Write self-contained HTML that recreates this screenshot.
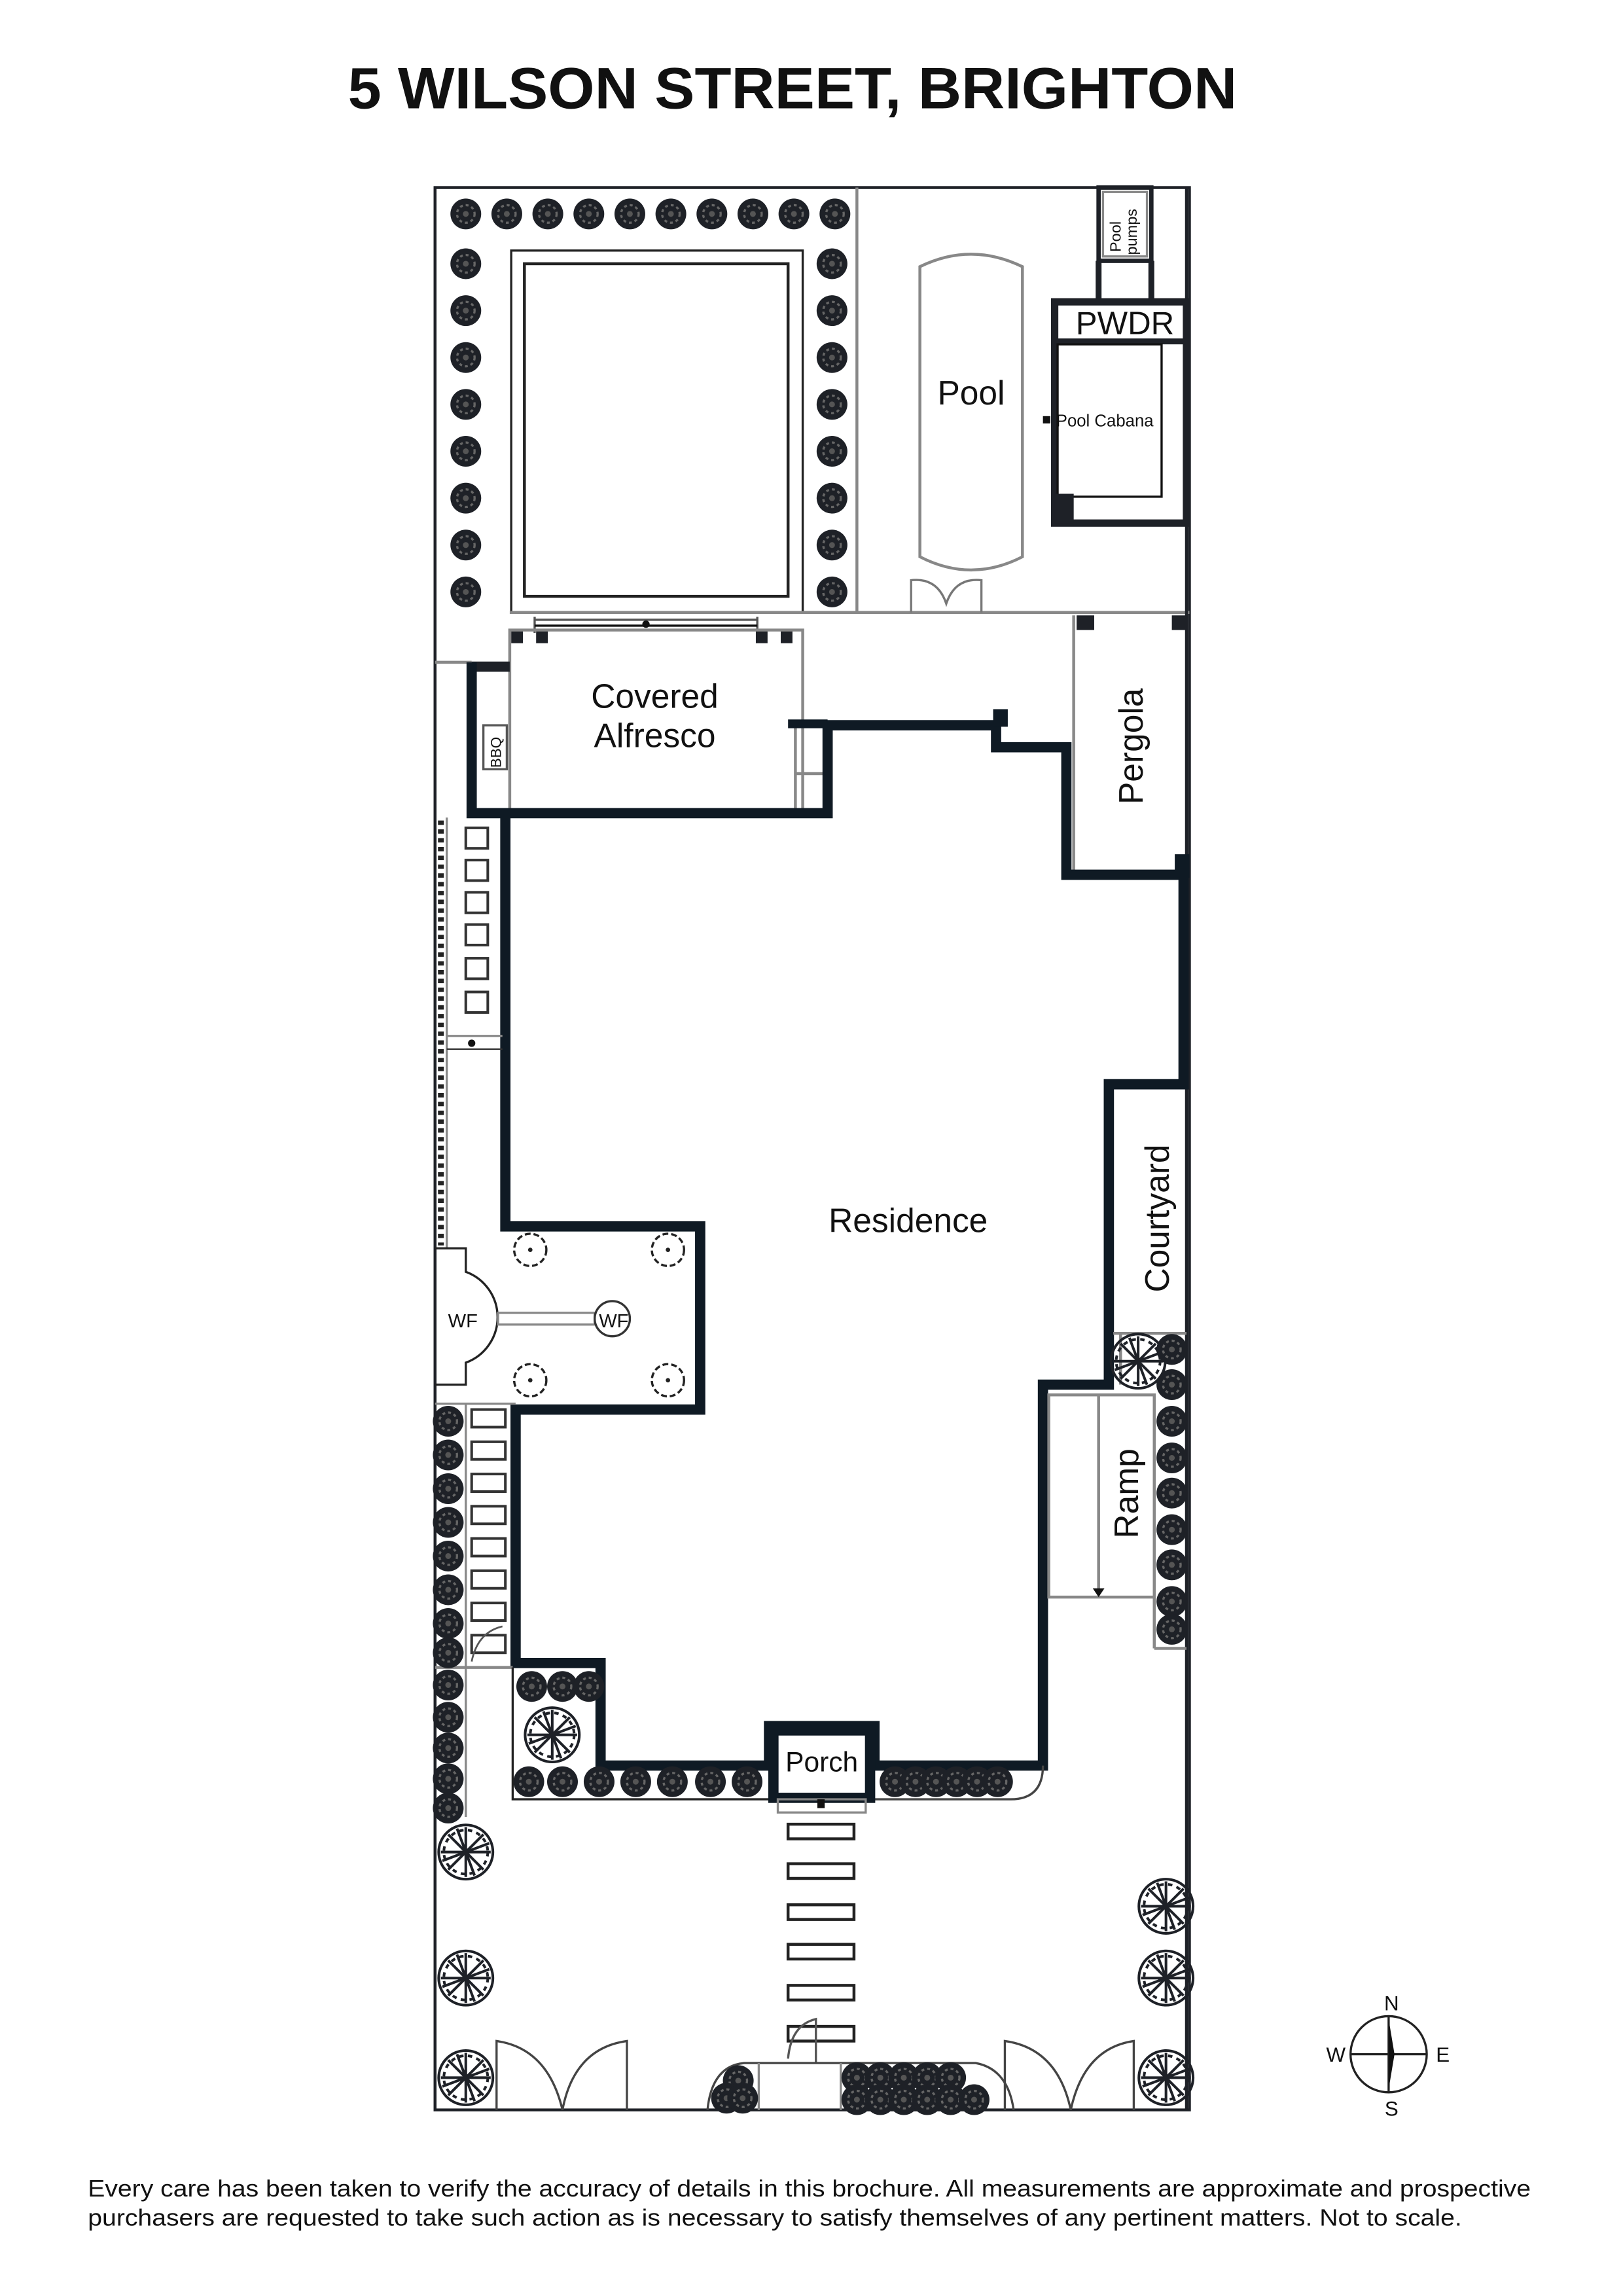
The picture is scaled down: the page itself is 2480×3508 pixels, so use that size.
<!DOCTYPE html>
<html><head><meta charset="utf-8"><style>
html,body{margin:0;padding:0;background:#fff}
svg{display:block}
text{font-family:"Liberation Sans",sans-serif;fill:#111}
</style></head><body>
<svg width="2480" height="3508" viewBox="0 0 1108 1567" preserveAspectRatio="none" xmlns="http://www.w3.org/2000/svg">
<defs>
<g id="t"><circle r="10.5" fill="#1e2127"/><circle r="6" fill="none" stroke="#666" stroke-width="1.5" stroke-dasharray="2 2"/><circle r="2" fill="#555"/></g>
<g id="T" fill="none" stroke="#1e2127" stroke-width="1.8"><circle r="18.5"/><circle r="15" stroke-dasharray="3 3"/><path d="M0,-17V17M-17,0H17M-12,-12L12,12M-12,12L12,-12M-6,-16L6,16M-16,6L16,-6"/></g>
</defs>
<text x="541" y="74" text-anchor="middle" font-size="40" font-weight="bold" fill="#0d1a26" textLength="607" lengthAdjust="spacingAndGlyphs">5 WILSON STREET, BRIGHTON</text>

<rect x="297" y="128" width="515" height="1312" fill="none" stroke="#1e2127" stroke-width="2"/>

<g>
<use href="#t" x="318" y="146"/><use href="#t" x="346" y="146"/><use href="#t" x="374" y="146"/><use href="#t" x="402" y="146"/><use href="#t" x="430" y="146"/><use href="#t" x="458" y="146"/><use href="#t" x="486" y="146"/><use href="#t" x="514" y="146"/><use href="#t" x="542" y="146"/><use href="#t" x="570" y="146"/>
<use href="#t" x="318" y="180"/><use href="#t" x="318" y="212"/><use href="#t" x="318" y="244"/><use href="#t" x="318" y="276"/><use href="#t" x="318" y="308"/><use href="#t" x="318" y="340"/><use href="#t" x="318" y="372"/><use href="#t" x="318" y="404"/>
<use href="#t" x="568" y="180"/><use href="#t" x="568" y="212"/><use href="#t" x="568" y="244"/><use href="#t" x="568" y="276"/><use href="#t" x="568" y="308"/><use href="#t" x="568" y="340"/><use href="#t" x="568" y="372"/><use href="#t" x="568" y="404"/>
</g>
<rect x="349" y="171" width="199" height="247" fill="none" stroke="#222" stroke-width="1.5"/>
<rect x="358" y="180" width="180" height="227" fill="none" stroke="#222" stroke-width="2"/>
<line x1="585" y1="128" x2="585" y2="418" stroke="#888" stroke-width="2"/>
<line x1="348" y1="418" x2="812" y2="418" stroke="#888" stroke-width="2"/>
<line x1="297" y1="452" x2="322" y2="452" stroke="#888" stroke-width="2"/>
<g stroke="#555" stroke-width="1.5"><line x1="365" y1="421" x2="365" y2="432"/><line x1="517" y1="421" x2="517" y2="432"/><line x1="365" y1="423" x2="517" y2="423"/><line x1="365" y1="427" x2="517" y2="427" stroke="#111"/></g>
<rect x="349" y="430" width="8" height="9" fill="#1e2127"/><rect x="366" y="430" width="8" height="9" fill="#1e2127"/><rect x="516" y="430" width="8" height="9" fill="#1e2127"/><rect x="533" y="430" width="8" height="9" fill="#1e2127"/>
<circle cx="441" cy="426" r="2.5" fill="#111"/>
<rect x="348" y="430" width="200" height="124" fill="none" stroke="#888" stroke-width="2"/>
<line x1="322" y1="455" x2="348" y2="455" stroke="#1e2127" stroke-width="7"/>
<line x1="543" y1="496" x2="543" y2="553" stroke="#888" stroke-width="2"/>
<line x1="543" y1="528" x2="565" y2="528" stroke="#888" stroke-width="2"/>
<rect x="330" y="495" width="16" height="30" fill="#fff" stroke="#555" stroke-width="1.5"/>
<text font-size="10" transform="translate(342,524) rotate(-90)">BBQ</text>
<text x="447" y="483" font-size="23" text-anchor="middle">Covered</text>
<text x="447" y="510" font-size="23" text-anchor="middle">Alfresco</text>

<path d="M628,182 Q663,165 698,182 V380 Q663,398 628,380 Z" fill="none" stroke="#888" stroke-width="2"/>
<text x="663" y="276" font-size="23" text-anchor="middle">Pool</text>
<path d="M622,418 V396 Q640,394 646,412 Q652,394 670,396 V418" fill="none" stroke="#777" stroke-width="1.5"/>
<rect x="750" y="128" width="36" height="50" fill="none" stroke="#1e2127" stroke-width="3"/>
<rect x="753" y="131" width="30" height="44" fill="none" stroke="#888" stroke-width="1.5"/>
<text font-size="10.5" transform="translate(765,172) rotate(-90)">Pool</text>
<text font-size="10.5" transform="translate(776,174) rotate(-90)">pumps</text>
<line x1="750" y1="178" x2="750" y2="205" stroke="#1e2127" stroke-width="4"/>
<line x1="786" y1="178" x2="786" y2="205" stroke="#1e2127" stroke-width="4"/>
<rect x="720" y="206" width="90" height="151" fill="none" stroke="#1e2127" stroke-width="5"/>
<line x1="720" y1="233" x2="810" y2="233" stroke="#1e2127" stroke-width="4"/>
<text x="768" y="228" font-size="22" text-anchor="middle">PWDR</text>
<rect x="722" y="235" width="71" height="104" fill="none" stroke="#111" stroke-width="1.5"/>
<rect x="720" y="337" width="13" height="20" fill="#1e2127"/>
<rect x="712" y="284" width="5" height="5" fill="#111"/>
<text x="721" y="291" font-size="11.5">Pool Cabana</text>

<line x1="733" y1="420" x2="733" y2="597" stroke="#888" stroke-width="2"/>
<rect x="735" y="420" width="12" height="10" fill="#1e2127"/><rect x="800" y="420" width="10" height="10" fill="#1e2127"/>
<text font-size="23" transform="translate(780,549) rotate(-90)">Pergola</text>
<line x1="810" y1="128" x2="810" y2="1440" stroke="#1e2127" stroke-width="2"/>

<path d="M322,452 V555 H565 V495 H680 V510 H728 V597 H808 V740 H757 V945 H712 V1205 H597 V1178 H525 V1205 H410 V1135 H352 V962 H478 V837 H345 V555" fill="none" stroke="#0f1a24" stroke-width="7" stroke-linejoin="miter"/>
<line x1="538" y1="494" x2="565" y2="494" stroke="#0f1a24" stroke-width="6"/>
<rect x="678" y="484" width="10" height="12" fill="#0f1a24"/>
<rect x="802" y="583" width="10" height="16" fill="#0f1a24"/>
<text x="620" y="841" font-size="23" text-anchor="middle">Residence</text>

<line x1="760" y1="910" x2="810" y2="910" stroke="#888" stroke-width="2"/>
<text font-size="23" transform="translate(798,882) rotate(-90)">Courtyard</text>
<rect x="716" y="952" width="72" height="138" fill="none" stroke="#888" stroke-width="2"/>
<line x1="750" y1="952" x2="750" y2="1086" stroke="#888" stroke-width="2"/>
<path d="M746,1084 L754,1084 L750,1090 Z" fill="#111"/>
<text font-size="23" transform="translate(777,1050) rotate(-90)">Ramp</text>
<line x1="788" y1="1090" x2="788" y2="1125" stroke="#888" stroke-width="2"/>
<line x1="788" y1="1125" x2="810" y2="1125" stroke="#888" stroke-width="2"/>
<line x1="765" y1="910" x2="765" y2="945" stroke="#888" stroke-width="2"/>
<use href="#T" x="777" y="929"/>
<use href="#t" x="800" y="921"/><use href="#t" x="800" y="945"/><use href="#t" x="800" y="970"/><use href="#t" x="800" y="995"/><use href="#t" x="800" y="1019"/><use href="#t" x="800" y="1044"/><use href="#t" x="800" y="1068"/><use href="#t" x="800" y="1093"/><use href="#t" x="800" y="1112"/>

<g stroke="#222" stroke-width="4" stroke-dasharray="3 3"><line x1="301" y1="560" x2="301" y2="850"/></g>
<line x1="305" y1="558" x2="305" y2="852" stroke="#888" stroke-width="1.5"/>
<g fill="none" stroke="#333" stroke-width="1.8">
<rect x="318" y="565" width="15" height="14"/><rect x="318" y="587" width="15" height="14"/><rect x="318" y="609" width="15" height="14"/><rect x="318" y="631" width="15" height="14"/><rect x="318" y="654" width="15" height="14"/><rect x="318" y="677" width="15" height="14"/>
</g>
<line x1="305" y1="707" x2="343" y2="707" stroke="#888" stroke-width="1.5"/>
<line x1="305" y1="716" x2="343" y2="716" stroke="#333" stroke-width="1"/>
<circle cx="322" cy="712" r="2.5" fill="#111"/>
<path d="M297,852 H318 V868 A33,33 0 0 1 318,930 V945 H297" fill="none" stroke="#222" stroke-width="1.5"/>
<text x="316" y="906" font-size="13" text-anchor="middle">WF</text>
<rect x="340" y="896" width="66" height="8" fill="none" stroke="#888" stroke-width="1.5"/>
<circle cx="418" cy="900" r="12" fill="#fff" stroke="#333" stroke-width="1.5"/>
<text x="419" y="906" font-size="13" text-anchor="middle">WF</text>
<g fill="none" stroke="#222" stroke-width="1.5" stroke-dasharray="4 2"><circle cx="362" cy="853" r="11"/><circle cx="456" cy="853" r="11"/><circle cx="362" cy="942" r="11"/><circle cx="456" cy="942" r="11"/></g>
<g fill="#222"><circle cx="362" cy="853" r="1.5"/><circle cx="456" cy="853" r="1.5"/><circle cx="362" cy="942" r="1.5"/><circle cx="456" cy="942" r="1.5"/></g>
<line x1="297" y1="958" x2="352" y2="958" stroke="#888" stroke-width="1.5"/>
<line x1="318" y1="958" x2="318" y2="1240" stroke="#888" stroke-width="1.5"/>
<g fill="none" stroke="#333" stroke-width="1.8">
<rect x="322" y="962" width="23" height="12"/><rect x="322" y="984" width="23" height="12"/><rect x="322" y="1006" width="23" height="12"/><rect x="322" y="1028" width="23" height="12"/><rect x="322" y="1050" width="23" height="12"/><rect x="322" y="1072" width="23" height="12"/><rect x="322" y="1094" width="23" height="12"/><rect x="322" y="1116" width="23" height="12"/>
</g>
<path d="M322,1134 Q326,1114 343,1110" fill="none" stroke="#555" stroke-width="1.2"/>
<line x1="297" y1="1138" x2="350" y2="1138" stroke="#888" stroke-width="2"/>
<use href="#t" x="306" y="970"/><use href="#t" x="306" y="993"/><use href="#t" x="306" y="1016"/><use href="#t" x="306" y="1039"/><use href="#t" x="306" y="1062"/><use href="#t" x="306" y="1085"/><use href="#t" x="306" y="1108"/><use href="#t" x="306" y="1128"/>
<use href="#t" x="306" y="1150"/><use href="#t" x="306" y="1172"/><use href="#t" x="306" y="1193"/><use href="#t" x="306" y="1214"/><use href="#t" x="306" y="1234"/>

<path d="M350,1138 V1228 H525" fill="none" stroke="#222" stroke-width="1.5"/>
<path d="M597,1228 H690 Q712,1228 712,1205" fill="none" stroke="#444" stroke-width="1.5"/>
<use href="#T" x="377" y="1184"/>
<use href="#t" x="363" y="1151"/><use href="#t" x="384" y="1151"/><use href="#t" x="402" y="1151"/>
<use href="#t" x="361" y="1216"/><use href="#t" x="384" y="1216"/><use href="#t" x="409" y="1216"/><use href="#t" x="434" y="1216"/><use href="#t" x="459" y="1216"/><use href="#t" x="485" y="1216"/><use href="#t" x="510" y="1216"/>
<use href="#t" x="611" y="1216"/><use href="#t" x="625" y="1216"/><use href="#t" x="639" y="1216"/><use href="#t" x="653" y="1216"/><use href="#t" x="667" y="1216"/><use href="#t" x="681" y="1216"/>
<rect x="528" y="1181" width="66" height="46" fill="#fff" stroke="#0f1a24" stroke-width="7"/>
<text x="561" y="1209" font-size="19" text-anchor="middle">Porch</text>
<rect x="531" y="1228" width="60" height="9" fill="none" stroke="#888" stroke-width="1.5"/>
<rect x="558" y="1228" width="5" height="6" fill="#111"/>
<g fill="none" stroke="#222" stroke-width="2">
<rect x="538" y="1245" width="45" height="10"/><rect x="538" y="1272" width="45" height="10"/><rect x="538" y="1300" width="45" height="10"/><rect x="538" y="1327" width="45" height="10"/><rect x="538" y="1355" width="45" height="10"/><rect x="538" y="1383" width="45" height="10"/>
</g>
<path d="M538,1405 Q540,1382 557,1378 V1408" fill="none" stroke="#555" stroke-width="1.5"/>
<path d="M483,1440 Q486,1410 508,1408 H666 Q688,1412 692,1440" fill="none" stroke="#444" stroke-width="1.5"/>
<line x1="518" y1="1408" x2="518" y2="1440" stroke="#888" stroke-width="1.5"/>
<line x1="574" y1="1408" x2="574" y2="1440" stroke="#888" stroke-width="1.5"/>
<use href="#t" x="504" y="1420"/><use href="#t" x="496" y="1432"/><use href="#t" x="507" y="1432"/>
<use href="#t" x="585" y="1418"/><use href="#t" x="601" y="1418"/><use href="#t" x="617" y="1418"/><use href="#t" x="633" y="1418"/><use href="#t" x="649" y="1418"/>
<use href="#t" x="585" y="1433"/><use href="#t" x="601" y="1433"/><use href="#t" x="617" y="1433"/><use href="#t" x="633" y="1433"/><use href="#t" x="649" y="1433"/><use href="#t" x="665" y="1433"/>
<g fill="none" stroke="#444" stroke-width="1.5">
<path d="M339,1440 V1393 Q374,1398 384,1440 Q392,1398 428,1393 V1440"/>
<path d="M686,1440 V1393 Q722,1398 731,1440 Q740,1398 774,1393 V1440"/>
</g>
<use href="#T" x="318" y="1264"/><use href="#T" x="318" y="1350"/><use href="#T" x="318" y="1418"/>
<use href="#T" x="796" y="1301"/><use href="#T" x="796" y="1350"/><use href="#T" x="796" y="1418"/>

<circle cx="948" cy="1402" r="26" fill="none" stroke="#222" stroke-width="1.5"/>
<line x1="922" y1="1402" x2="974" y2="1402" stroke="#222" stroke-width="1.5"/>
<line x1="948" y1="1376" x2="948" y2="1428" stroke="#222" stroke-width="1.5"/>
<path d="M948,1378 L952,1402 L948,1426 Z" fill="#111"/>
<text x="950" y="1372" font-size="14" text-anchor="middle">N</text>
<text x="950" y="1444" font-size="14" text-anchor="middle">S</text>
<text x="912" y="1407" font-size="14" text-anchor="middle">W</text>
<text x="985" y="1407" font-size="14" text-anchor="middle">E</text>

<text x="60" y="1499" font-size="16" fill="#222" textLength="985" lengthAdjust="spacingAndGlyphs">Every care has been taken to verify the accuracy of details in this brochure. All measurements are approximate and prospective</text>
<text x="60" y="1519" font-size="16" fill="#222" textLength="938" lengthAdjust="spacingAndGlyphs">purchasers are requested to take such action as is necessary to satisfy themselves of any pertinent matters. Not to scale.</text>
</svg>
</body></html>
